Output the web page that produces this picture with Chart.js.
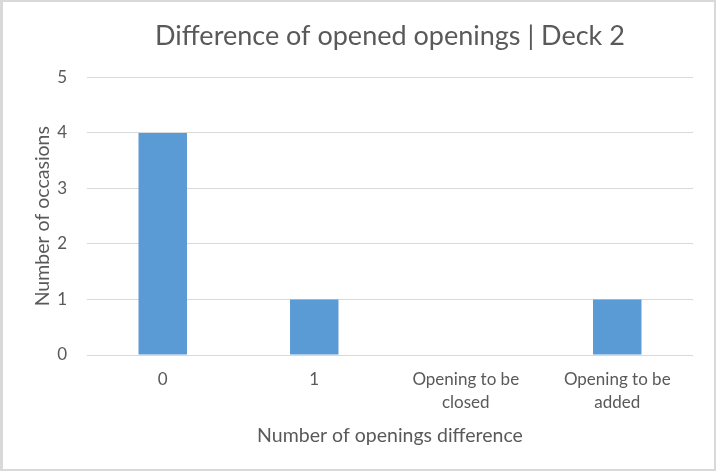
<!DOCTYPE html>
<html>
<head>
<meta charset="utf-8">
<script src="https://cdn.jsdelivr.net/npm/chart.js@4"></script>
<style>
  body { margin: 0; background: #fff; }
  #wrap {
    position: absolute; left: 0; top: 0;
    width: 716px; height: 471px;
    box-sizing: border-box;
    border: 2px solid #d9d9d9; border-left-width: 3px;
    background: #fff;
  }
  #wrap canvas { display: block; }
</style>
</head>
<body>
<div id="wrap"><canvas id="myChart" width="711" height="467"></canvas></div>
<script>
// chart data
const categories = ['0', '1', ['Opening to be', 'closed'], ['Opening to be', 'added']];
const occasions = [4, 1, 0, 1];
const yTicks = [0, 1, 2, 3, 4, 5];

const grey = '#595959';
const fontName = 'Lato, "Open Sans", sans-serif';

const ctx = document.getElementById('myChart').getContext('2d');
const myChart = new Chart(ctx, {
  type: 'bar',
  data: {
    labels: categories,
    datasets: [{
      label: 'Number of occasions',
      data: occasions,
      backgroundColor: '#5b9bd5',
      categoryPercentage: 1,
      barPercentage: 0.32
    }]
  },
  options: {
    responsive: false,
    animation: false,
    layout: { padding: { left: 0, right: 21, top: 0, bottom: 22 } },
    plugins: {
      legend: { display: false },
      tooltip: { enabled: false },
      title: {
        display: true,
        fullSize: false,
        text: 'Difference of opened openings | Deck 2',
        color: grey,
        font: { family: fontName, size: 27, weight: 'normal' },
        padding: { top: 18, bottom: 25 }
      }
    },
    scales: {
      x: {
        grid: { display: false, drawTicks: false },
        border: { display: false },
        ticks: { color: grey, font: { family: fontName, size: 17, lineHeight: 1.35 }, padding: 13, maxRotation: 0 },
        title: {
          display: true,
          text: 'Number of openings difference',
          color: grey,
          font: { family: fontName, size: 19.5 },
          padding: { top: 6, bottom: 0 }
        },
        afterFit: function(scale) { scale.height = 92; }
      },
      y: {
        min: 0,
        max: 5,
        afterBuildTicks: function(scale) { scale.ticks = yTicks.map(v => ({ value: v })); },
        grid: { color: '#d9d9d9', drawTicks: false, lineWidth: 1 },
        border: { display: false },
        ticks: { color: grey, font: { family: fontName, size: 17 }, padding: 20 },
        title: {
          display: true,
          text: 'Number of occasions',
          color: grey,
          font: { family: fontName, size: 19.5 },
          padding: { top: 28, bottom: 0 }
        },
        afterFit: function(scale) { scale.width = 84; }
      }
    }
  }
});
</script>
</body>
</html>
